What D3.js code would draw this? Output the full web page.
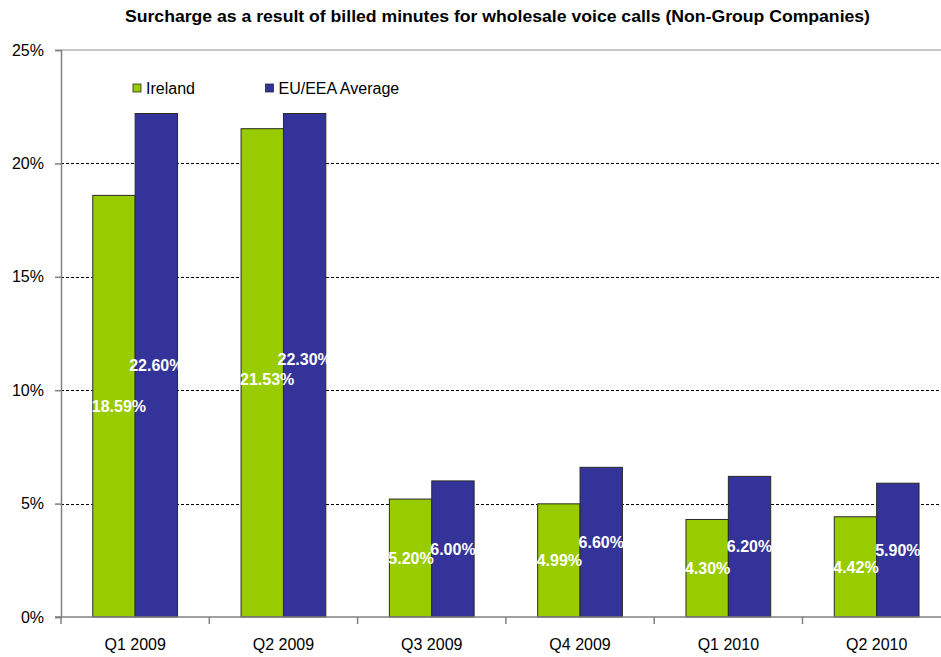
<!DOCTYPE html>
<html>
<head>
<meta charset="utf-8">
<script src="https://cdn.jsdelivr.net/npm/d3@7/dist/d3.min.js"></script>
<style>
  body { margin: 0; background: #fff; }
  svg { display: block; font-family: "Liberation Sans", Arial, sans-serif; }
</style>
</head>
<body>
<svg id="chart" width="941" height="657"></svg>
<script>
const quarters = ["Q1 2009", "Q2 2009", "Q3 2009", "Q4 2009", "Q1 2010", "Q2 2010"];
const seriesNames = ["Ireland", "EU/EEA Average"];
const seriesColors = ["#99cc00", "#333399"];

// bar heights as drawn in the picture
const ireland = [18.59, 21.53, 5.20, 4.99, 4.30, 4.42];
const euAverage = [22.2, 22.2, 6.00, 6.60, 6.20, 5.90];

// data labels as printed on the bars
const irelandLabels = ["18.59%", "21.53%", "5.20%", "4.99%", "4.30%", "4.42%"];
const euLabels = ["22.60%", "22.30%", "6.00%", "6.60%", "6.20%", "5.90%"];

const yTicks = [0, 5, 10, 15, 20, 25];
const title = "Surcharge as a result of billed minutes for wholesale voice calls (Non-Group Companies)";

(() => {
  const svg = d3.select("#chart");

  const left = 61;
  const catWidth = 148.3;
  const yBottom = 617;
  const yTop = 50;
  const LABEL_GAP = 20; // min vertical distance between the two labels of a group

  const x0 = d3.scaleBand()
    .domain(quarters)
    .range([left, left + catWidth * quarters.length])
    .padding(0);

  const x1 = d3.scaleBand()
    .domain(seriesNames)
    .range([0, x0.bandwidth()])
    .paddingInner(0)
    .paddingOuter(0.75);

  const y = d3.scaleLinear().domain([0, 25]).range([yBottom, yTop]);

  // title
  svg.append("text")
    .attr("x", 125)
    .attr("y", 22)
    .attr("font-size", "16px")
    .attr("font-weight", "bold")
    .attr("textLength", 745)
    .attr("lengthAdjust", "spacingAndGlyphs")
    .text(title);

  // top border of plot
  svg.append("line")
    .attr("x1", left).attr("x2", 941)
    .attr("y1", y(25)).attr("y2", y(25))
    .attr("stroke", "#b4b4b4")
    .attr("stroke-width", 1.5);

  // dashed gridlines
  svg.append("g")
    .selectAll("line")
    .data(yTicks.filter(d => d > 0 && d < 25))
    .join("line")
    .attr("x1", left).attr("x2", 941)
    .attr("y1", d => Math.round(y(d)) + 0.5)
    .attr("y2", d => Math.round(y(d)) + 0.5)
    .attr("stroke", "#000")
    .attr("stroke-width", 1)
    .attr("stroke-dasharray", "3,2");

  // y axis
  const yAxis = svg.append("g")
    .attr("transform", `translate(${left},0)`)
    .call(d3.axisLeft(y)
      .tickValues(yTicks)
      .tickSize(6)
      .tickPadding(11)
      .tickFormat(d => d + "%"));
  yAxis.select(".domain").attr("stroke", "#808080").attr("stroke-width", 1.5);
  yAxis.selectAll(".tick line").attr("stroke", "#808080").attr("stroke-width", 1.5);
  yAxis.selectAll(".tick text")
    .attr("font-size", "16px")
    .attr("font-family", "Liberation Sans, Arial, sans-serif")
    .attr("fill", "#000");

  // bars
  const rows = quarters.map((q, i) => ({
    quarter: q,
    values: [
      { name: seriesNames[0], value: ireland[i], label: irelandLabels[i], color: seriesColors[0] },
      { name: seriesNames[1], value: euAverage[i], label: euLabels[i], color: seriesColors[1] }
    ]
  }));

  const groups = svg.append("g")
    .selectAll("g")
    .data(rows)
    .join("g")
    .attr("transform", d => `translate(${x0(d.quarter)},0)`);

  groups.selectAll("rect")
    .data(d => d.values)
    .join("rect")
    .attr("x", d => x1(d.name))
    .attr("y", d => y(d.value))
    .attr("width", x1.bandwidth())
    .attr("height", d => y(0) - y(d.value))
    .attr("fill", d => d.color)
    .attr("stroke", "#2a2a2a")
    .attr("stroke-width", 1);

  const labels = groups.selectAll("text")
    .data(d => d.values)
    .join("text")
    .attr("x", d => x1(d.name) + x1.bandwidth() / 2)
    .attr("y", d => (y(d.value) + y(0)) / 2)
    .attr("dy", "0.36em")
    .attr("text-anchor", "middle")
    .attr("font-size", "16px")
    .attr("font-weight", "bold")
    .attr("fill", "#fff")
    .text(d => d.label);

  // Ireland labels wider than the bar start at the bar's left edge
  labels.filter(d => d.name === seriesNames[0]).each(function (d) {
    const w = this.getComputedTextLength();
    const minCenter = x1(d.name) - 1 + w / 2;
    const cx = x1(d.name) + x1.bandwidth() / 2;
    if (cx < minCenter) d3.select(this).attr("x", minCenter);
  });

  // push the two labels of a group apart when they really collide
  groups.each(function () {
    const pair = d3.select(this).selectAll("text").nodes();
    const a = pair[0].getBBox();
    const b = pair[1].getBBox();
    const overlapX = Math.min(a.x + a.width, b.x + b.width) - Math.max(a.x, b.x);
    if (overlapX < 5) return;
    const ya = +pair[0].getAttribute("y");
    const yb = +pair[1].getAttribute("y");
    const diff = ya - yb;
    if (Math.abs(diff) < LABEL_GAP) {
      const shift = (LABEL_GAP - Math.abs(diff)) / 2;
      const dir = diff >= 0 ? 1 : -1;
      pair[0].setAttribute("y", ya + dir * shift);
      pair[1].setAttribute("y", yb - dir * shift);
    }
  });

  // x axis
  const xAxis = svg.append("g")
    .attr("transform", `translate(0,${yBottom})`);
  xAxis.append("line")
    .attr("x1", left - 6).attr("x2", 941)
    .attr("stroke", "#808080")
    .attr("stroke-width", 1.5);
  xAxis.selectAll(".sep")
    .data(quarters)
    .join("line")
    .attr("class", "sep")
    .attr("x1", d => x0(d)).attr("x2", d => x0(d))
    .attr("y1", 0).attr("y2", 7)
    .attr("stroke", "#808080")
    .attr("stroke-width", 1.5);
  xAxis.selectAll(".lbl")
    .data(quarters)
    .join("text")
    .attr("class", "lbl")
    .attr("x", d => x0(d) + x0.bandwidth() / 2)
    .attr("y", 33)
    .attr("text-anchor", "middle")
    .attr("font-size", "16px")
    .text(d => d);

  // legend
  const legendX = [133, 265.5];
  const legend = svg.append("g")
    .selectAll("g")
    .data(seriesNames)
    .join("g")
    .attr("transform", (d, i) => `translate(${legendX[i]},84)`);
  legend.append("rect")
    .attr("width", 8).attr("height", 8)
    .attr("fill", (d, i) => seriesColors[i])
    .attr("stroke", "#2a2a2a")
    .attr("stroke-width", 0.8);
  legend.append("text")
    .attr("x", 13)
    .attr("y", 10)
    .attr("font-size", "16px")
    .text(d => d);
})();
</script>
</body>
</html>
